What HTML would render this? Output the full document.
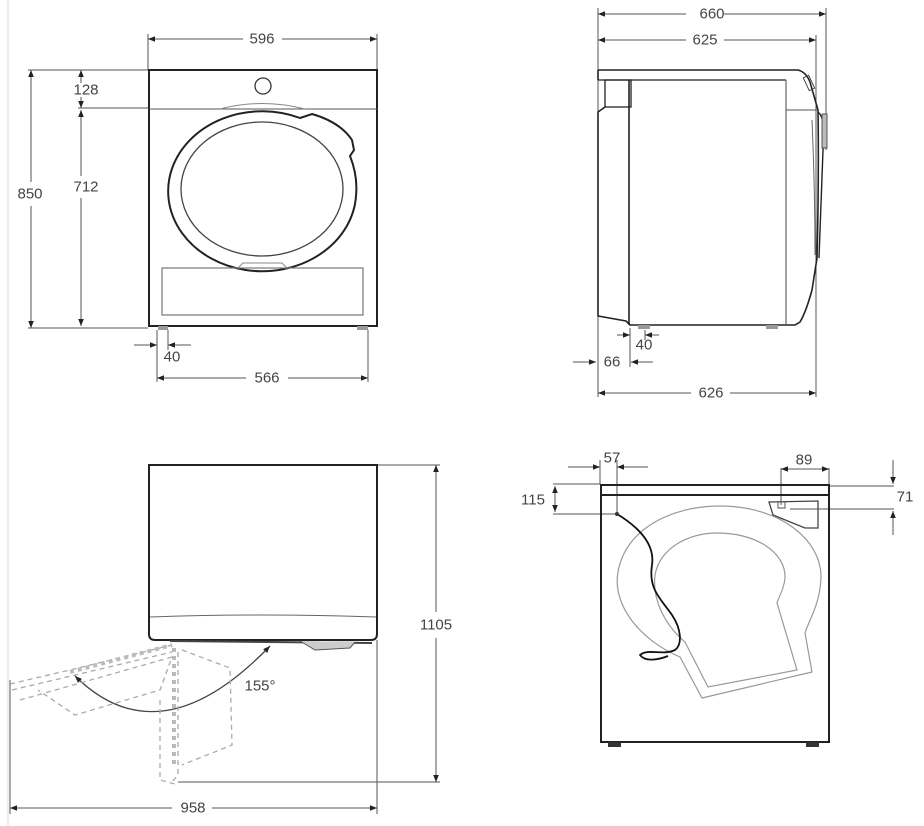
<!DOCTYPE html>
<html><head><meta charset="utf-8"><style>
html,body{margin:0;padding:0;background:#fff;width:924px;height:826px;overflow:hidden}
svg{display:block}
text{font-family:"Liberation Sans",sans-serif;font-size:15px;fill:#444;text-anchor:middle;dominant-baseline:central}
</style></head><body>
<svg width="924" height="826" viewBox="0 0 924 826" xmlns="http://www.w3.org/2000/svg">
<defs>
<marker id="a" viewBox="0 0 10 10" refX="10" refY="5" markerWidth="9" markerHeight="7" orient="auto-start-reverse" markerUnits="userSpaceOnUse"><path d="M0,1 L10,5 L0,9 z" fill="#222"/></marker>
</defs>
<line x1="8" y1="0" x2="8" y2="826" stroke="#ddd" stroke-width="1"/>
<g stroke="#555" stroke-width="1" fill="none">
<line x1="148" y1="34" x2="148" y2="70"/><line x1="377" y1="34" x2="377" y2="70"/>
<line x1="148" y1="39" x2="243" y2="39" marker-start="url(#a)"/><line x1="282" y1="39" x2="377" y2="39" marker-end="url(#a)"/>
<line x1="28" y1="70" x2="148" y2="70"/><line x1="28" y1="328" x2="148" y2="328"/><line x1="78" y1="108" x2="148" y2="108"/>
<line x1="31" y1="70" x2="31" y2="182" marker-start="url(#a)"/><line x1="31" y1="206" x2="31" y2="328" marker-end="url(#a)"/>
<line x1="81" y1="70" x2="81" y2="83" marker-start="url(#a)"/><line x1="81" y1="97" x2="81" y2="108" marker-end="url(#a)"/>
<line x1="81" y1="110" x2="81" y2="176" marker-start="url(#a)"/><line x1="81" y1="198" x2="81" y2="326" marker-end="url(#a)"/>
<line x1="157" y1="330" x2="157" y2="382"/><line x1="168" y1="330" x2="168" y2="350"/><line x1="368" y1="330" x2="368" y2="382"/>
<line x1="134" y1="345" x2="157" y2="345" marker-end="url(#a)"/><line x1="191" y1="345" x2="168" y2="345" marker-end="url(#a)"/>
<line x1="157" y1="378" x2="246" y2="378" marker-start="url(#a)"/><line x1="288" y1="378" x2="368" y2="378" marker-end="url(#a)"/>
</g>
<g fill="none">
<rect x="149" y="70" width="228" height="256" stroke="#222" stroke-width="2"/>
<line x1="149" y1="109" x2="377" y2="109" stroke="#555"/>
<circle cx="263" cy="86" r="8" stroke="#333" stroke-width="1.3"/>
<path d="M220,109 Q262,98 305,109" stroke="#888"/>
<path d="M300,118 L312,114 Q340,122 352,140 L354,150 L350,156 Q358,176 356,196 A94,80 0 1 1 300,118 Z" stroke="#222" stroke-width="2"/>
<ellipse cx="262" cy="189" rx="81" ry="67" stroke="#444" stroke-width="1.3"/>
<rect x="162" y="268" width="201" height="47" stroke="#777" stroke-width="1.2"/>
<path d="M238,268 L243,263 L282,263 L287,268" stroke="#888"/>
<rect x="158" y="326" width="10" height="4" fill="#999"/><rect x="357" y="326" width="11" height="4" fill="#999"/>
</g>
<text x="262" y="39">596</text><text x="30" y="194">850</text><text x="86" y="90">128</text><text x="86" y="187">712</text><text x="172" y="357">40</text><text x="267" y="378">566</text>

<g stroke="#555" stroke-width="1" fill="none">
<line x1="598" y1="8" x2="598" y2="397"/><line x1="826" y1="8" x2="826" y2="150"/><line x1="816" y1="35" x2="816" y2="397"/>
<line x1="598" y1="14" x2="686" y2="14" marker-start="url(#a)"/><line x1="724" y1="14" x2="826" y2="14" marker-end="url(#a)"/>
<line x1="598" y1="40" x2="686" y2="40" marker-start="url(#a)"/><line x1="724" y1="40" x2="816" y2="40" marker-end="url(#a)"/>
<line x1="598" y1="393" x2="691" y2="393" marker-start="url(#a)"/><line x1="730" y1="393" x2="816" y2="393" marker-end="url(#a)"/>
<line x1="630" y1="328" x2="630" y2="367"/><line x1="645" y1="330" x2="645" y2="340"/>
<line x1="617" y1="335" x2="630" y2="335" marker-end="url(#a)"/><line x1="659" y1="335" x2="645" y2="335" marker-end="url(#a)"/>
<line x1="573" y1="362" x2="596" y2="362" marker-end="url(#a)"/><line x1="653" y1="362" x2="631" y2="362" marker-end="url(#a)"/>
</g>
<g fill="none" stroke="#222" stroke-width="1.6">
<path d="M598,70 L798,70 Q806,72 810,82 L818,110 Q819,180 817,258 L812,290 Q806,312 800,322 L795,325 L630,325 L626,321 L598,316 L598,112 L605,107"/>
<line x1="598" y1="70" x2="598" y2="80"/>
<line x1="598" y1="80" x2="786" y2="80" stroke-width="1.2"/>
<rect x="605" y="80" width="26" height="27" stroke-width="1.3"/>
<line x1="629" y1="80" x2="629" y2="325"/>
<line x1="786" y1="80" x2="786" y2="325" stroke-width="1.1" stroke="#555"/>
<line x1="786" y1="110" x2="818" y2="110" stroke-width="1" stroke="#555"/>
<path d="M818,112 Q826,118 823,150 L819,258" stroke-width="1.4"/>
<path d="M812,120 Q815,190 815,255" stroke-width="1" stroke="#666"/>
<rect x="822" y="114" width="5" height="34" fill="#bbb" stroke="#555" stroke-width="1"/>
<rect x="806" y="76" width="6" height="14" transform="rotate(-25 809 83)" stroke-width="1" stroke="#444"/>
</g>
<rect x="638" y="325" width="12" height="4" fill="#999"/><rect x="766" y="325" width="12" height="4" fill="#999"/>
<text x="712" y="14">660</text><text x="705" y="40">625</text><text x="711" y="393">626</text><text x="644" y="345">40</text><text x="612" y="362">66</text>

<g stroke="#555" stroke-width="1" fill="none">
<line x1="377" y1="465" x2="440" y2="465"/><line x1="178" y1="782" x2="440" y2="782"/>
<line x1="436" y1="465" x2="436" y2="612" marker-start="url(#a)"/><line x1="436" y1="638" x2="436" y2="782" marker-end="url(#a)"/>
<line x1="10" y1="680" x2="10" y2="814"/><line x1="377" y1="640" x2="377" y2="814"/>
<line x1="10" y1="808" x2="172" y2="808" marker-start="url(#a)"/><line x1="212" y1="808" x2="377" y2="808" marker-end="url(#a)"/>
</g>
<g fill="none">
<path d="M149,465 L377,465 L377,634 Q377,640 371,640 L155,640 Q149,640 149,634 Z" stroke="#222" stroke-width="2"/>
<path d="M150,617 Q262,613 376,617" stroke="#666"/>
<path d="M170,641 L372,643" stroke="#444" stroke-width="2"/>
<path d="M300,641 L315,650 L350,648 L355,642" stroke="#555" fill="#ccc"/>
<path d="M75,676 Q160,760 270,646" stroke="#444" stroke-width="1.3" marker-start="url(#a)" marker-end="url(#a)"/>
<g stroke="#aaa" stroke-width="1.3" stroke-dasharray="5,4">
<path d="M10,684 L70,670 L172,645"/>
<path d="M12,690 L172,652"/>
<path d="M20,700 L172,657 L160,690 L75,715 L38,690"/>
<path d="M182,650 L230,668 L232,745 L182,765"/>
<path d="M178,652 L178,775 L172,782"/>
<path d="M160,700 L160,780 L175,784"/>
</g>
<g stroke="#bbb" stroke-width="4" stroke-dasharray="4,4"><path d="M70,672 L172,645"/><path d="M174,648 L174,765"/></g>
</g>
<text x="260" y="686">155°</text><text x="436" y="625">1105</text><text x="193" y="808">958</text>

<g stroke="#555" stroke-width="1" fill="none">
<line x1="600" y1="460" x2="600" y2="484"/><line x1="617" y1="460" x2="617" y2="514"/>
<line x1="568" y1="467" x2="600" y2="467" marker-end="url(#a)"/><line x1="648" y1="467" x2="617" y2="467" marker-end="url(#a)"/>
<line x1="553" y1="484" x2="600" y2="484"/><line x1="553" y1="514" x2="617" y2="514"/>
<line x1="555" y1="486" x2="555" y2="512" marker-start="url(#a)" marker-end="url(#a)"/>
<line x1="781" y1="468" x2="781" y2="505"/><line x1="829" y1="468" x2="829" y2="484"/>
<line x1="781" y1="469" x2="829" y2="469" marker-start="url(#a)" marker-end="url(#a)"/>
<line x1="829" y1="486" x2="894" y2="486"/><line x1="790" y1="509" x2="894" y2="509"/>
<line x1="893" y1="460" x2="893" y2="484" marker-end="url(#a)"/><line x1="893" y1="535" x2="893" y2="511" marker-end="url(#a)"/>
</g>
<g fill="none">
<rect x="601" y="485" width="228" height="257" stroke="#222" stroke-width="2"/>
<line x1="601" y1="495" x2="829" y2="495" stroke="#222" stroke-width="2"/>
<path d="M769,502 L818,501 L818,528 L805,528 L773,515 Z" stroke="#444" stroke-width="1.3"/>
<rect x="778" y="502" width="7" height="6" stroke="#555"/>
<path d="M680,657 C640,640 612,605 618,572 C625,530 670,506 720,506 C780,506 822,540 821,578 C820,605 808,622 805,633 L812,672 L702,698 Z" stroke="#999" stroke-width="1.2"/>
<path d="M685,642 C665,625 652,600 655,575 C660,548 688,533 718,533 C755,533 786,552 785,578 C784,590 778,598 777,603 L797,670 L708,687 Z" stroke="#999" stroke-width="1.2"/>
<path d="M617,514 C640,528 655,545 652,565 C648,590 662,600 672,615 C682,630 682,645 675,650 C662,656 648,648 640,655 C645,662 658,660 668,656" stroke="#111" stroke-width="1.8"/>
<circle cx="617" cy="514" r="2" fill="#333"/>
</g>
<rect x="608" y="742" width="13" height="5" fill="#333"/><rect x="806" y="742" width="13" height="5" fill="#333"/>
<text x="612" y="458">57</text><text x="533" y="500">115</text><text x="804" y="460">89</text><text x="905" y="497">71</text>
</svg>
</body></html>
